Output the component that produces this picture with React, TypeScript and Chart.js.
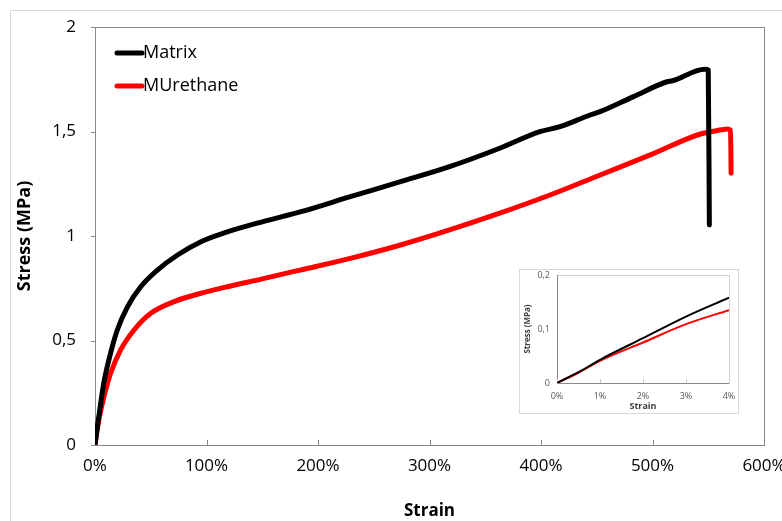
import React, { useEffect, useRef } from "react";
import { Chart, registerables } from "chart.js";
Chart.register(...registerables);

const seriesNames = ["Matrix", "MUrethane"];
const seriesColors = ["#000000", "#ff0000"];

// Main chart (strain in %, stress in MPa)
const matrixStrain = [0, 2, 4, 8, 14, 20, 29, 41, 56, 74, 95, 116, 150, 184, 229, 274, 318, 363, 399, 417, 444, 453, 483, 513, 518, 547, 550, 551];
const matrixStress = [0, 0.083, 0.158, 0.3, 0.44, 0.55, 0.66, 0.757, 0.837, 0.909, 0.973, 1.015, 1.068, 1.115, 1.188, 1.26, 1.332, 1.42, 1.499, 1.523, 1.579, 1.595, 1.667, 1.738, 1.743, 1.798, 1.794, 1.053];
const urethaneStrain = [0, 2, 4, 8, 14, 23, 35, 50, 71, 95, 116, 150, 184, 229, 274, 318, 363, 408, 453, 498, 543, 562, 567, 570, 570.5];
const urethaneStress = [0, 0.075, 0.135, 0.23, 0.343, 0.455, 0.55, 0.63, 0.686, 0.726, 0.754, 0.795, 0.837, 0.893, 0.957, 1.029, 1.109, 1.196, 1.292, 1.388, 1.488, 1.508, 1.512, 1.507, 1.3];

// Inset (first 4 % of strain)
const insetStrain = [0, 0.5, 1, 2, 3, 4];
const insetMatrix = [0, 0.02, 0.043, 0.083, 0.123, 0.158];
const insetUrethane = [0, 0.019, 0.041, 0.075, 0.109, 0.135];

const toPoints = (xs: number[], ys: number[]) => xs.map((x, i) => ({ x, y: ys[i] }));
const commaLabel = (v: number | string) => String(Number(v)).replace(".", ",");

const framePlugin = {
  id: "frame",
  beforeDatasetsDraw(chart: any, _args: any, opts: any) {
    const { ctx, chartArea } = chart;
    const { left, right, top, bottom } = chartArea;
    const x = chart.scales.x;
    const y = chart.scales.y;
    ctx.save();
    ctx.strokeStyle = opts.color;
    ctx.lineWidth = opts.width;
    ctx.strokeRect(Math.round(left) + 0.5, Math.round(top) + 0.5, Math.round(right - left), Math.round(bottom - top));
    if (opts.axisColor) {
      ctx.strokeStyle = opts.axisColor;
      ctx.beginPath();
      ctx.moveTo(Math.round(left) + 0.5, top);
      ctx.lineTo(Math.round(left) + 0.5, Math.round(bottom) + 0.5);
      ctx.lineTo(right, Math.round(bottom) + 0.5);
      ctx.stroke();
    }
    ctx.strokeStyle = opts.tickColor || opts.color;
    ctx.beginPath();
    x.ticks.forEach((t: any) => {
      const px = Math.round(x.getPixelForValue(t.value)) + 0.5;
      ctx.moveTo(px, bottom);
      ctx.lineTo(px, bottom - opts.xTick);
    });
    y.ticks.forEach((t: any) => {
      const py = Math.round(y.getPixelForValue(t.value)) + 0.5;
      ctx.moveTo(left, py);
      ctx.lineTo(left - opts.yTick, py);
    });
    ctx.stroke();
    ctx.restore();
  },
};

const legendPlugin = {
  id: "insideLegend",
  afterDraw(chart: any, _args: any, opts: any) {
    const { ctx, chartArea } = chart;
    ctx.save();
    ctx.font = opts.font;
    ctx.textBaseline = "middle";
    ctx.textAlign = "left";
    chart.data.datasets.forEach((ds: any, i: number) => {
      const yy = chartArea.top + opts.top + i * opts.rowGap;
      const x0 = chartArea.left + opts.left;
      ctx.strokeStyle = ds.borderColor;
      ctx.lineWidth = 5;
      ctx.lineCap = "round";
      ctx.beginPath();
      ctx.moveTo(x0, yy);
      ctx.lineTo(x0 + opts.lineLen, yy);
      ctx.stroke();
      ctx.fillStyle = "#000";
      ctx.fillText(ds.label, x0 + opts.lineLen + 1, yy);
    });
    ctx.restore();
  },
};

const FONT = "'Open Sans', 'Noto Sans', sans-serif";

export default function App() {
  const mainRef = useRef<HTMLCanvasElement>(null);
  const insetRef = useRef<HTMLCanvasElement>(null);

  useEffect(() => {
    const main = new Chart(mainRef.current as HTMLCanvasElement, {
      type: "line",
      data: {
        datasets: [
          { label: seriesNames[0], data: toPoints(matrixStrain, matrixStress), borderColor: seriesColors[0], backgroundColor: seriesColors[0], borderWidth: 5, pointRadius: 0, cubicInterpolationMode: "monotone", borderCapStyle: "round", borderJoinStyle: "round" },
          { label: seriesNames[1], data: toPoints(urethaneStrain, urethaneStress), borderColor: seriesColors[1], backgroundColor: seriesColors[1], borderWidth: 5, pointRadius: 0, cubicInterpolationMode: "monotone", borderCapStyle: "round", borderJoinStyle: "round" },
        ],
      },
      options: {
        animation: false,
        responsive: true,
        maintainAspectRatio: false,
        layout: { padding: { left: 0, right: 18, top: 27, bottom: 0 } },
        plugins: {
          legend: { display: false },
          tooltip: { enabled: false },
          frame: { color: "#8a8a8a", width: 1, xTick: 5, yTick: 4 },
          insideLegend: { font: `18px ${FONT}`, left: 22, top: 26, rowGap: 33, lineLen: 25 },
        } as any,
        scales: {
          x: {
            type: "linear",
            min: 0,
            max: 600,
            grid: { display: false, drawTicks: false },
            border: { display: false },
            ticks: { stepSize: 100, callback: (v: any) => v + "%", font: { family: FONT, size: 17 }, color: "#000", padding: 11, maxRotation: 0 },
            title: { display: true, text: "Strain", font: { family: FONT, size: 17, weight: "bold" }, color: "#000", padding: 0 },
            afterFit: (s: any) => { s.height = 76; s.paddingLeft = 0; s.paddingRight = 0; },
          },
          y: {
            type: "linear",
            min: 0,
            max: 2,
            grid: { display: false, drawTicks: false },
            border: { display: false },
            ticks: { stepSize: 0.5, callback: (v: any) => commaLabel(v), font: { family: FONT, size: 17 }, color: "#000", padding: 19 },
            title: { display: true, text: "Stress (MPa)", font: { family: FONT, size: 18, weight: "bold" }, color: "#000", padding: { top: 14, bottom: 0 } },
            afterFit: (s: any) => { s.width = 95; s.paddingTop = 0; s.paddingBottom = 0; },
          },
        },
      } as any,
      plugins: [framePlugin, legendPlugin],
    });

    const inset = new Chart(insetRef.current as HTMLCanvasElement, {
      type: "line",
      data: {
        datasets: [
          { label: seriesNames[0], data: toPoints(insetStrain, insetMatrix), borderColor: seriesColors[0], borderWidth: 2, pointRadius: 0, cubicInterpolationMode: "monotone" },
          { label: seriesNames[1], data: toPoints(insetStrain, insetUrethane), borderColor: seriesColors[1], borderWidth: 2, pointRadius: 0, cubicInterpolationMode: "monotone" },
        ],
      },
      options: {
        animation: false,
        responsive: true,
        maintainAspectRatio: false,
        layout: { padding: { left: 0, right: 9, top: 5, bottom: 0 } },
        plugins: {
          legend: { display: false },
          tooltip: { enabled: false },
          frame: { color: "#d0d0d0", width: 1, xTick: 4, yTick: 0, axisColor: "#8a8a8a", tickColor: "#c8c8c8" },
        } as any,
        scales: {
          x: {
            type: "linear",
            min: 0,
            max: 4,
            grid: { display: false, drawTicks: false },
            border: { display: false },
            ticks: { stepSize: 1, callback: (v: any) => v + "%", font: { family: FONT, size: 9 }, color: "#595959", padding: 8, maxRotation: 0 },
            title: { display: true, text: "Strain", font: { family: FONT, size: 9, weight: "bold" }, color: "#404040", padding: 1 },
            afterFit: (s: any) => { s.height = 30; s.paddingLeft = 0; s.paddingRight = 0; },
          },
          y: {
            type: "linear",
            min: 0,
            max: 0.2,
            grid: { display: false, drawTicks: false },
            border: { display: false },
            ticks: { stepSize: 0.1, callback: (v: any) => commaLabel(Math.round(Number(v) * 10) / 10), font: { family: FONT, size: 9 }, color: "#595959", padding: 7 },
            title: { display: true, text: "Stress (MPa)", font: { family: FONT, size: 8, weight: "bold" }, color: "#404040", padding: { top: 3, bottom: 0 } },
            afterFit: (s: any) => { s.width = 37; s.paddingTop = 0; s.paddingBottom = 0; },
          },
        },
      } as any,
      plugins: [framePlugin],
    });

    return () => {
      main.destroy();
      inset.destroy();
    };
  }, []);

  return (
    <div style={{ position: "fixed", left: 0, top: 0, width: 782, height: 521, background: "#fff", overflow: "hidden" }}>
      <div style={{ position: "absolute", left: 10, top: 10, width: 820, height: 600, border: "1px solid #d9d9d9", boxSizing: "border-box" }} />
      <div style={{ position: "absolute", left: 0, top: 0, width: 782, height: 521 }}>
        <canvas ref={mainRef} />
      </div>
      <div style={{ position: "absolute", left: 519, top: 269, width: 220, height: 145, border: "1px solid #d9d9d9", boxSizing: "border-box", background: "#fff" }}>
        <div style={{ position: "relative", width: 218, height: 143 }}>
          <canvas ref={insetRef} />
        </div>
      </div>
    </div>
  );
}
